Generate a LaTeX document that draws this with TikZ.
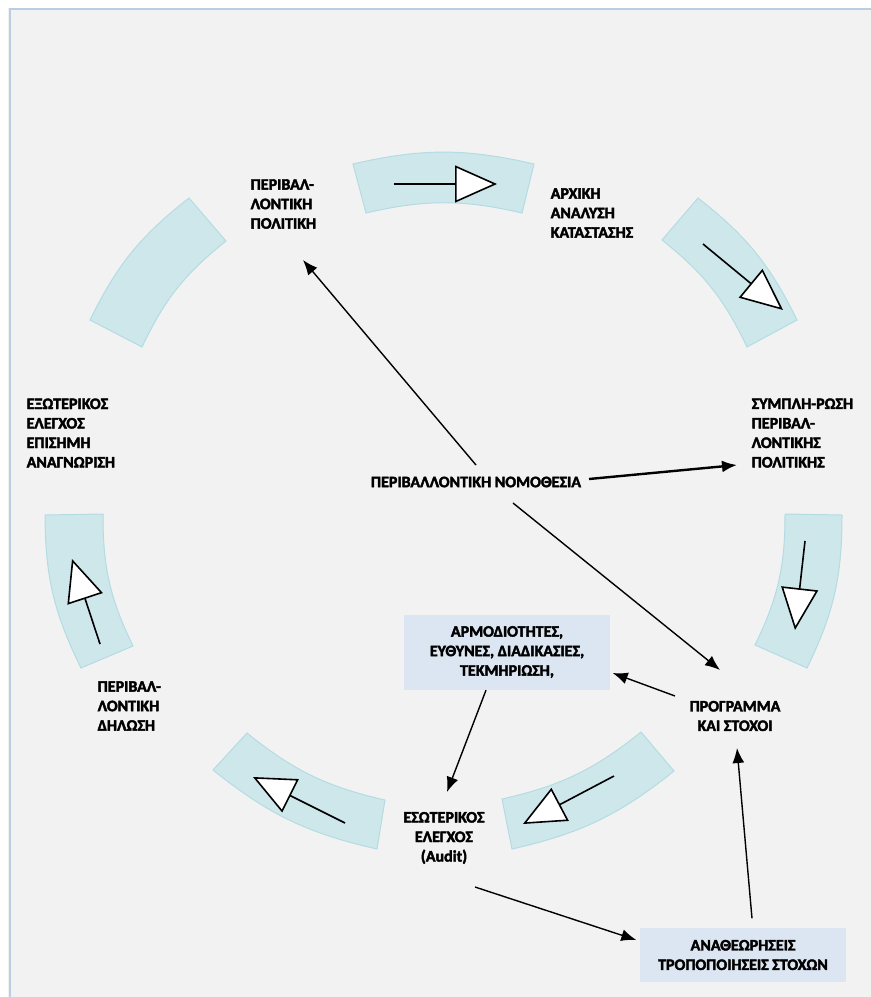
\documentclass[tikz,border=0pt]{standalone}
\usepackage{fontspec}
\setmainfont{Carlito}[BoldFeatures={FakeBold=2.5}]
\usepackage{tikz}
\usetikzlibrary{calc}
\usetikzlibrary{arrows.meta}
\definecolor{bg}{RGB}{242,242,242}
\definecolor{frame}{RGB}{185,205,229}
\definecolor{segfill}{RGB}{205,231,235}
\definecolor{segline}{RGB}{180,220,226}
\definecolor{boxfill}{RGB}{220,230,242}
\tikzstyle{every node}=[font=\fontsize{16}{19.5}\selectfont\bfseries,inner sep=0pt]
\tikzstyle{txt}=[align=center]
\tikzstyle{txtl}=[align=left,anchor=west]
\tikzstyle{bluebox}=[fill=boxfill,align=center,minimum width=206pt]
\tikzstyle{seg}=[fill=segfill,draw=segline,line width=1pt]
\tikzstyle{turn}=[-{Triangle[length=42pt,width=37pt,fill=white]},line width=1.6pt,black]

\begin{document}
\begin{tikzpicture}[x=1pt,y=-1pt,->,>={Latex[length=15pt,width=12pt]},line width=1.4pt]
	\useasboundingbox (0,0) rectangle (871,997);
	\fill[white] (0,0) rectangle (871,997);
	\fill[bg] (8,8) rectangle (871,997);
	\draw[-,frame,line width=2pt] (9.5,997) -- (9.5,8.5) -- (871,8.5);
	% ring of segments
	\path[seg,-] (353,164) to[bend left=13] (534,164) -- (522,213) to[bend right=13] (366,213) -- cycle;
	\path[seg,-] (698,198) to[bend left=13] (797,320) -- (747,347) to[bend right=13] (662,240) -- cycle;
	\path[seg,-] (842,515) to[bend left=13] (807,668) -- (755,645) to[bend right=13] (785,514) -- cycle;
	\path[seg,-] (674,771) to[bend left=13] (512,849) -- (502,799) to[bend right=13] (641,732) -- cycle;
	\path[seg,-] (377,849) to[bend left=13] (213,770) -- (247,733) to[bend right=13] (385,800) -- cycle;
	\path[seg,-] (81,668) to[bend left=13] (45,515) -- (103,514) to[bend right=13] (133,646) -- cycle;
	\path[seg,-] (90,320) to[bend left=13] (189,198) -- (226,241) to[bend right=13] (142,347) -- cycle;
	\draw[turn] (394,184) -- (497,184);
	\draw[turn] (703,244) -- (783,310);
	\draw[turn] (805,541) -- (795,630);
	\draw[turn] (614,776) -- (523,824);
	\draw[turn] (345,823) -- (253,777);
	\draw[turn] (100,644) -- (72,559);
	% texts
	\node[txtl] (pol) at (250,204) {ΠΕΡΙΒΑΛ-\\ΛΟΝΤΙΚΗ\\ΠΟΛΙΤΙΚΗ};
	\node[txtl] (arx) at (550,213) {ΑΡΧΙΚΗ\\ΑΝΑΛΥΣΗ\\ΚΑΤΑΣΤΑΣΗΣ};
	\node[txtl] (sym) at (751,433) {ΣΥΜΠΛΗ-ΡΩΣΗ\\ΠΕΡΙΒΑΛ-\\ΛΟΝΤΙΚΗΣ\\ΠΟΛΙΤΙΚΗΣ};
	\node[txtl] (ekso) at (26,433) {ΕΞΩΤΕΡΙΚΟΣ\\ΕΛΕΓΧΟΣ\\ΕΠΙΣΗΜΗ\\ΑΝΑΓΝΩΡΙΣΗ};
	\node[txt] (nomo) at (476,482) {ΠΕΡΙΒΑΛΛΟΝΤΙΚΗ ΝΟΜΟΘΕΣΙΑ};
	\node[bluebox,minimum height=75pt] (arm) at (507,652) {ΑΡΜΟΔΙΟΤΗΤΕΣ,\\ΕΥΘΥΝΕΣ, ΔΙΑΔΙΚΑΣΙΕΣ,\\ΤΕΚΜΗΡΙΩΣΗ,};
	\node[txt] (prog) at (735,716) {ΠΡΟΓΡΑΜΜΑ\\ΚΑΙ ΣΤΟΧΟΙ};
	\node[txtl] (dil) at (97,706) {ΠΕΡΙΒΑΛ-\\ΛΟΝΤΙΚΗ\\ΔΗΛΩΣΗ};
	\node[txt] (eso) at (444,838) {ΕΣΩΤΕΡΙΚΟΣ\\ΕΛΕΓΧΟΣ\\(Audit)};
	\node[bluebox,minimum height=54pt] (ana) at (743,955) {ΑΝΑΘΕΩΡΗΣΕΙΣ\\ΤΡΟΠΟΠΟΙΗΣΕΙΣ ΣΤΟΧΩΝ};
	\path
		($(nomo)+(0,-17)$)		edge					($(pol.west)+(53,56)$)
		($(nomo)+(113,-3)$)		edge[line width=2.4pt]	($(sym.west)+(-14,32)$)
		($(nomo)+(37,21)$)		edge					($(prog)+(-15,-46)$)
		($(prog)+(-60,-20)$)	edge					($(arm.east)+(2,21)$)
		($(arm.south)+(-21,0)$)	edge					($(eso)+(3,-46)$)
		($(eso)+(31,49)$)		edge					($(ana.west)+(-3,-15)$)
		($(ana.north)+(9,-9)$)	edge					($(prog)+(2,32)$);
\end{tikzpicture}
\end{document}
